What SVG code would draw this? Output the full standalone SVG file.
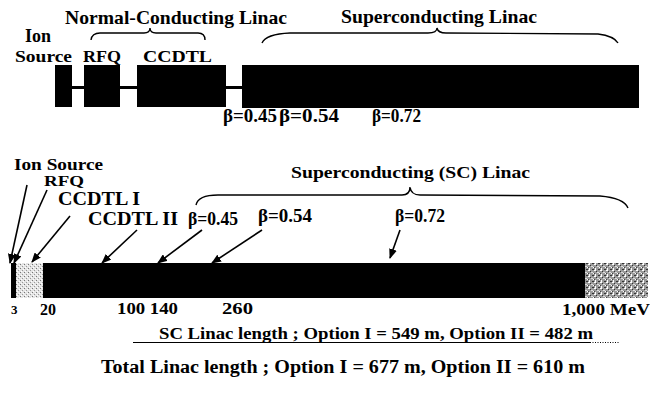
<svg xmlns="http://www.w3.org/2000/svg" width="650" height="410" viewBox="0 0 650 410">
<style>
text{font-family:"Liberation Serif","Times New Roman",serif;font-weight:bold;fill:#000}
.blk{fill:#000}
.con{stroke:#000;stroke-width:1.6;fill:none}
.brace{stroke:#000;stroke-width:1.4;fill:none}
</style>
<defs>
<marker id="ah" markerWidth="10" markerHeight="8" refX="9" refY="4" orient="auto" markerUnits="userSpaceOnUse">
<path d="M0,0 L10,4 L0,8 z" fill="#000"/>
</marker>
<pattern id="light" width="4" height="4" patternUnits="userSpaceOnUse">
<rect width="4" height="4" fill="#e4e4e4"/>
<rect x="0" y="0" width="1" height="1" fill="#777"/>
<rect x="2" y="2" width="1" height="1" fill="#999"/>
<rect x="3" y="1" width="1" height="1" fill="#fff"/>
<rect x="1" y="3" width="1" height="1" fill="#fff"/>
</pattern>
<pattern id="dark" width="6" height="6" patternUnits="userSpaceOnUse">
<rect width="6" height="6" fill="#9a9a9a"/>
<rect x="0" y="0" width="2" height="1" fill="#fff"/>
<rect x="3" y="2" width="2" height="1" fill="#ddd"/>
<rect x="1" y="4" width="1" height="2" fill="#fff"/>
<rect x="4" y="5" width="2" height="1" fill="#333"/>
<rect x="2" y="1" width="1" height="1" fill="#333"/>
<rect x="5" y="3" width="1" height="1" fill="#fff"/>
<rect x="0" y="3" width="1" height="1" fill="#444"/>
</pattern>
</defs>

<!-- top diagram -->
<g id="top-line"><rect x="72" y="86" width="170" height="3" class="blk"/></g>
<g id="top-ion"><rect x="55" y="65" width="17" height="42" class="blk"/>
<text x="25" y="42" font-size="18">Ion</text>
<text x="15" y="62" font-size="17" textLength="57" lengthAdjust="spacingAndGlyphs">Source</text></g>
<g id="top-rfq"><rect x="84" y="65" width="36" height="42" class="blk"/>
<text x="83" y="62" font-size="17" textLength="38" lengthAdjust="spacingAndGlyphs">RFQ</text></g>
<g id="top-ccdtl"><rect x="137" y="65" width="89" height="42" class="blk"/>
<text x="143" y="62" font-size="17" textLength="69" lengthAdjust="spacingAndGlyphs">CCDTL</text></g>
<g id="top-sc"><rect x="242" y="65" width="397" height="43" class="blk"/>
<text x="223" y="122" font-size="18" textLength="54" lengthAdjust="spacingAndGlyphs">β=0.45</text>
<text x="279" y="122" font-size="18" textLength="60" lengthAdjust="spacingAndGlyphs">β=0.54</text>
<text x="372" y="122" font-size="18" textLength="49" lengthAdjust="spacingAndGlyphs">β=0.72</text></g>
<g id="top-nc-label">
<text x="65" y="24" font-size="19" textLength="222" lengthAdjust="spacingAndGlyphs">Normal-Conducting Linac</text>
<path class="brace" d="M91,40 Q92,33 100,33 L144,33 Q150,33 150,28 Q150,33 156,33 L198,33 Q205,33 205,40"/></g>
<g id="top-sc-label">
<text x="341" y="23" font-size="19" textLength="196" lengthAdjust="spacingAndGlyphs">Superconducting Linac</text>
<path class="brace" d="M262,43 Q266,34 290,33 L428,33 Q437,33 437,28 Q438,33 446,33 L598,34 Q614,36 618,43"/></g>

<!-- bottom diagram -->
<g id="bar">
<rect x="11" y="263" width="5" height="35" class="blk"/>
<rect x="16" y="263" width="27" height="35" fill="url(#light)"/>
<rect x="43" y="263" width="542" height="35" class="blk"/>
<rect x="585" y="263" width="63" height="35" fill="url(#dark)"/>
</g>
<g id="connectors">
<line class="con" x1="27" y1="185" x2="10" y2="263" marker-end="url(#ah)"/>
<line class="con" x1="47" y1="190" x2="14" y2="263" marker-end="url(#ah)"/>
<line class="con" x1="70" y1="216" x2="32" y2="262" marker-end="url(#ah)"/>
<line class="con" x1="137" y1="230" x2="102" y2="263" marker-end="url(#ah)"/>
<line class="con" x1="202" y1="230" x2="158" y2="263" marker-end="url(#ah)"/>
<line class="con" x1="262" y1="230" x2="212" y2="263" marker-end="url(#ah)"/>
<line class="con" x1="400" y1="230" x2="390" y2="258" marker-end="url(#ah)"/>
</g>
<g id="labels-bottom">
<text x="14" y="170" font-size="16" textLength="89" lengthAdjust="spacingAndGlyphs">Ion Source</text>
<text x="44" y="186" font-size="15" textLength="40" lengthAdjust="spacingAndGlyphs">RFQ</text>
<text x="58" y="205" font-size="19" textLength="82" lengthAdjust="spacingAndGlyphs">CCDTL I</text>
<text x="88" y="225" font-size="19" textLength="90" lengthAdjust="spacingAndGlyphs">CCDTL II</text>
<text x="188" y="225" font-size="19" textLength="50" lengthAdjust="spacingAndGlyphs">β=0.45</text>
<text x="258" y="222" font-size="18" textLength="54" lengthAdjust="spacingAndGlyphs">β=0.54</text>
<text x="395" y="222" font-size="18" textLength="50" lengthAdjust="spacingAndGlyphs">β=0.72</text>
</g>
<g id="sc-brace">
<text x="291" y="178" font-size="17" textLength="239" lengthAdjust="spacingAndGlyphs">Superconducting (SC) Linac</text>
<path class="brace" d="M196,205 Q198,195 218,195 L402,195 Q410,195 410,187 Q411,195 420,195 L600,196 Q624,198 628,208"/>
</g>
<g id="numbers">
<text x="11" y="314" font-size="13">3</text>
<text x="40" y="315" font-size="17" textLength="16" lengthAdjust="spacingAndGlyphs">20</text>
<text x="117" y="314" font-size="17" textLength="61" lengthAdjust="spacingAndGlyphs">100 140</text>
<text x="222" y="314" font-size="17" textLength="31" lengthAdjust="spacingAndGlyphs">260</text>
<text x="562" y="315" font-size="17" textLength="88" lengthAdjust="spacingAndGlyphs">1,000 MeV</text>
</g>
<g id="summary">
<text x="159" y="339" font-size="17" textLength="434" lengthAdjust="spacingAndGlyphs">SC Linac length ; Option I = 549 m, Option II = 482 m</text>
<line x1="133" y1="342.5" x2="590" y2="342.5" stroke="#000" stroke-width="1.2"/>
<line x1="590" y1="342.5" x2="620" y2="342.5" stroke="#000" stroke-width="1" stroke-dasharray="1,1.5"/>
<text x="101" y="373" font-size="18" textLength="484" lengthAdjust="spacingAndGlyphs">Total Linac length ; Option I = 677 m, Option II = 610 m</text>
</g>
</svg>
